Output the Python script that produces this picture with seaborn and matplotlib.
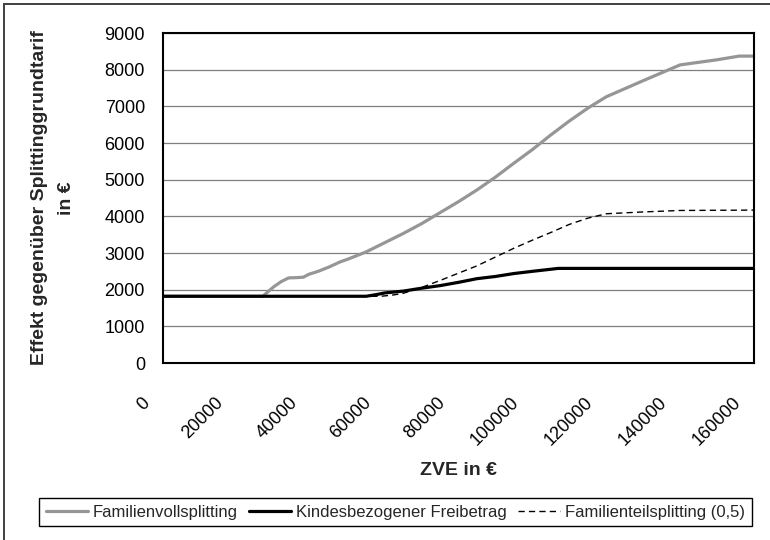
import numpy as np
import pandas as pd
import matplotlib
matplotlib.use("Agg")
import matplotlib.pyplot as plt
import matplotlib.transforms as mtransforms
from matplotlib.patches import Rectangle
import seaborn as sns

# Data (ZVE in EUR -> effect in EUR)
zve_voll = [0, 27000, 28500, 30000, 32000, 34000, 36500, 38000, 39500, 42000,
            45000, 48000, 50000, 52000, 55000, 60000, 65000, 70000, 75000,
            80000, 85000, 90000, 95000, 100000, 105000, 110000, 115000, 120000,
            130000, 140000, 150000, 156000, 160000]
eff_voll = [1820, 1820, 1950, 2080, 2220, 2320, 2330, 2340, 2420, 2500,
            2620, 2760, 2830, 2910, 3030, 3280, 3530, 3800, 4100,
            4400, 4720, 5070, 5450, 5820, 6220, 6600, 6950, 7260,
            7700, 8130, 8270, 8370, 8370]

zve_kind = [0, 55000, 58000, 60000, 65000, 70000, 75000, 80000, 85000, 90000,
            95000, 100000, 107000, 160000]
eff_kind = [1820, 1820, 1870, 1910, 1960, 2040, 2110, 2200, 2300, 2360,
            2440, 2500, 2580, 2580]

zve_teil = [0, 59000, 62000, 65000, 70000, 75000, 80000, 85000, 90000, 95000,
            100000, 105000, 110000, 115000, 120000, 130000, 140000, 160000]
eff_teil = [1820, 1820, 1850, 1900, 2060, 2250, 2450, 2650, 2890, 3130,
            3350, 3560, 3780, 3950, 4070, 4120, 4160, 4170]

labels = ["Familienvollsplitting", "Kindesbezogener Freibetrag",
          "Familienteilsplitting (0,5)"]
x_ticks = list(range(0, 160001, 20000))
y_ticks = list(range(0, 9001, 1000))

sns.set_theme(style="white")
plt.rcParams['font.family'] = ['Liberation Sans', 'DejaVu Sans']
plt.rcParams['font.size'] = 13

fig = plt.figure(figsize=(7.7, 5.4), dpi=100)
ax = fig.add_axes([163 / 770, 1 - 363 / 540, 591 / 770, 330 / 540])

# Horizontal grid lines
ax.set_axisbelow(True)
ax.yaxis.grid(True, color='#7f7f7f', linewidth=0.9)
ax.xaxis.grid(False)

sns.lineplot(x=zve_voll, y=eff_voll, ax=ax, color='#969696', linewidth=2.3,
             label=labels[0])
sns.lineplot(x=zve_kind, y=eff_kind, ax=ax, color='black', linewidth=2.3,
             label=labels[1])
sns.lineplot(x=zve_teil, y=eff_teil, ax=ax, color='black', linewidth=1.0,
             linestyle=(0, (4.5, 3)), label=labels[2])

ax.set_xlim(0, 160000)
ax.set_ylim(0, 9000)
ax.set_xticks(x_ticks)
ax.set_yticks(y_ticks)
ax.set_xticklabels([str(t) for t in x_ticks], rotation=45, ha='right', va='top')
ax.set_yticklabels([str(t) for t in y_ticks])

for s in ax.spines.values():
    s.set_color('black')
    s.set_linewidth(1.5)

ax.tick_params(axis='both', which='major', direction='out', color='black',
               labelsize=13, labelcolor='black')
ax.tick_params(axis='x', length=5.5, width=1.3, pad=17)
ax.tick_params(axis='y', length=6, width=1.3, pad=7)

# shift rotated x labels a bit to the left
offset = mtransforms.ScaledTranslation(-10 / 100, 0, fig.dpi_scale_trans)
for lab in ax.get_xticklabels():
    lab.set_transform(lab.get_transform() + offset)

ax.set_xlabel("ZVE in €", fontsize=14, fontweight='bold')
ax.xaxis.set_label_coords(0.5, -0.30)
ax.set_ylabel("Effekt gegenüber Splittinggrundtarif\nin €", fontsize=14,
              fontweight='bold', multialignment='center', linespacing=1.8)
ax.yaxis.set_label_coords(-0.149, 0.5)

leg = ax.legend(ncol=3, loc='center',
                bbox_to_anchor=(395.5 / 770, 1 - 512 / 540),
                bbox_transform=fig.transFigure, borderaxespad=0,
                fancybox=False, frameon=True, edgecolor='black', framealpha=1,
                fontsize=12, handlelength=2.5, handletextpad=0.3,
                columnspacing=0.7, borderpad=0.4)
leg.get_frame().set_linewidth(1.0)

# outer chart frame (only top and left edges visible in the original)
fig.patches.append(Rectangle((4 / 770, -0.05), 1.2, 1.05 - 4 / 540,
                             transform=fig.transFigure, fill=False,
                             edgecolor='#404040', linewidth=1.4))

fig.savefig('out.png', dpi=100)
